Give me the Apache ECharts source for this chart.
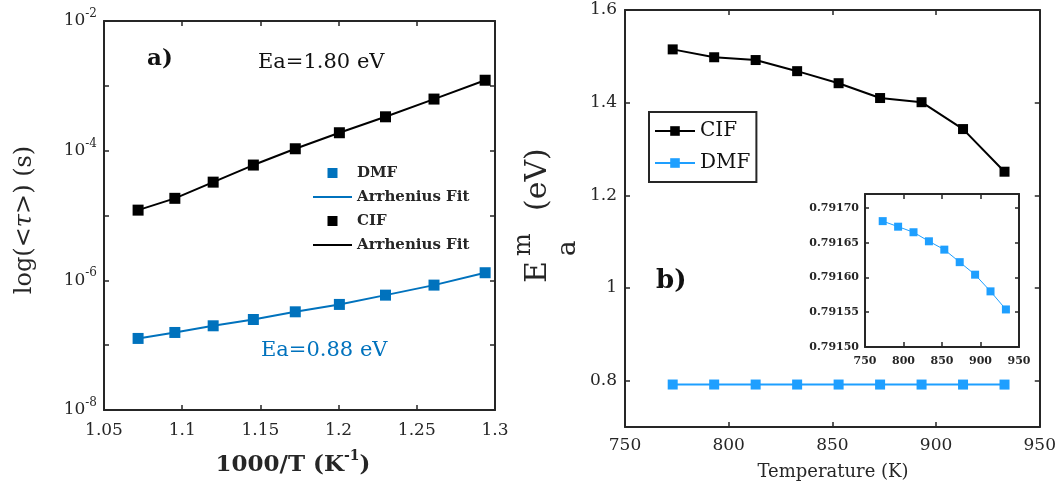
<!DOCTYPE html>
<html>
<head>
<meta charset="utf-8">
<script src="https://cdn.jsdelivr.net/npm/echarts@6/dist/echarts.min.js"></script>
<style>
  html, body { margin: 0; padding: 0; background: #fff; }
  #chart { width: 1059px; height: 484px; }
</style>
</head>
<body>
<div id="chart"></div>
<script>
// panel a: relaxation time vs 1000/T
const invT = [1.0718, 1.0953, 1.1198, 1.1455, 1.1723, 1.2005, 1.2300, 1.2610, 1.2937];
const tauDMF = [1.27e-7, 1.57e-7, 1.99e-7, 2.49e-7, 3.27e-7, 4.25e-7, 5.91e-7, 8.44e-7, 1.31e-6];
const tauCIF = [1.21e-5, 1.84e-5, 3.27e-5, 6.0e-5, 1.07e-4, 1.89e-4, 3.33e-4, 6.25e-4, 1.22e-3];

// panel b: migration energy vs temperature
const temps = [773, 793, 813, 833, 853, 873, 893, 913, 933];
const emCIF = [1.515, 1.498, 1.492, 1.468, 1.442, 1.410, 1.401, 1.343, 1.251];
const emDMF = [0.791681, 0.791673, 0.791665, 0.791652, 0.791640, 0.791622, 0.791604, 0.791580, 0.791554];

const yTicksB = [0.8, 1.0, 1.2, 1.4, 1.6];
const insetTicks = [0.7915, 0.79155, 0.7916, 0.79165, 0.7917];

const FONT = 'DejaVu Serif';
const INK = '#262626';
const BLUE_A = '#0072BD';
const BLUE_B = '#1E9FFF';

// legend icon shapes: a small square marker, and a plain 2px line
const SQUARE = 'path://M0,0H10V10H0Z';
const DASH = 'path://M0,0H40V2H0Z';

const pairs = (xs, ys) => xs.map((x, i) => [x, ys[i]]);

function boxAxis(extra) {
  return Object.assign({
    axisLine: { show: true, onZero: false, lineStyle: { color: INK, width: 2 } },
    axisTick: { show: true, inside: true, length: 5, lineStyle: { color: INK, width: 1.5 } },
    splitLine: { show: false },
    axisLabel: { show: false }
  }, extra);
}

const lbl = (size, margin, more) => Object.assign({
  show: true, color: INK, fontFamily: FONT, fontSize: size, margin: margin
}, more || {});

const chart = echarts.init(document.getElementById('chart'));

chart.setOption({
  animation: false,
  grid: [
    { left: 104, right: 564, top: 21, bottom: 74 },
    { left: 625, right: 17, top: 10, bottom: 57 },
    { left: 865, right: 40, top: 194, bottom: 137, show: true, backgroundColor: '#fff', borderWidth: 0 }
  ],
  xAxis: [
    boxAxis({ type: 'value', gridIndex: 0, min: 1.05, max: 1.3, interval: 0.05,
      axisLabel: lbl(17, 12, { formatter: v => String(parseFloat(v.toFixed(2))) }) }),
    boxAxis({ type: 'value', gridIndex: 0, position: 'top', min: 1.05, max: 1.3, interval: 0.05 }),
    boxAxis({ type: 'value', gridIndex: 1, min: 750, max: 950, interval: 50,
      axisLabel: lbl(17, 10) }),
    boxAxis({ type: 'value', gridIndex: 1, position: 'top', min: 750, max: 950, interval: 50 }),
    boxAxis({ type: 'value', gridIndex: 2, min: 750, max: 950, interval: 50,
      axisLabel: lbl(11, 9, { fontWeight: 'bold' }) }),
    boxAxis({ type: 'value', gridIndex: 2, position: 'top', min: 750, max: 950, interval: 50 })
  ],
  yAxis: [
    boxAxis({ type: 'log', logBase: 10, gridIndex: 0, min: 1e-8, max: 1e-2, interval: 1,
      axisLabel: lbl(17, 7, {
        formatter: v => {
          const e = Math.round(Math.log10(v));
          return e % 2 === 0 ? '{b|10}{s|' + e + '}' : '';
        },
        rich: {
          b: { fontFamily: FONT, fontSize: 17, color: INK, lineHeight: 26 },
          s: { fontFamily: FONT, fontSize: 12, color: INK, lineHeight: 12, verticalAlign: 'top' }
        }
      }) }),
    boxAxis({ type: 'log', logBase: 10, gridIndex: 0, position: 'right', min: 1e-8, max: 1e-2, interval: 1 }),
    boxAxis({ type: 'value', gridIndex: 1, min: 0.7, max: 1.6,
      axisTick: { show: true, inside: true, length: 5, customValues: yTicksB, lineStyle: { color: INK, width: 1.5 } },
      axisLabel: lbl(17, 8, { customValues: yTicksB, formatter: v => String(parseFloat(v.toFixed(1))) }) }),
    boxAxis({ type: 'value', gridIndex: 1, position: 'right', min: 0.7, max: 1.6,
      axisTick: { show: true, inside: true, length: 5, customValues: yTicksB, lineStyle: { color: INK, width: 1.5 } } }),
    boxAxis({ type: 'value', gridIndex: 2, min: 0.7915, max: 0.79172,
      axisTick: { show: true, inside: true, length: 4, customValues: insetTicks, lineStyle: { color: INK, width: 1.5 } },
      axisLabel: lbl(11, 6, { fontWeight: 'bold', customValues: insetTicks, formatter: v => v.toFixed(5) }) }),
    boxAxis({ type: 'value', gridIndex: 2, position: 'right', min: 0.7915, max: 0.79172,
      axisTick: { show: true, inside: true, length: 4, customValues: insetTicks, lineStyle: { color: INK, width: 1.5 } } })
  ],
  legend: [
    {
      orient: 'vertical', left: 313, top: 164, padding: 0,
      itemWidth: 39, itemHeight: 10, itemGap: 6, symbolKeepAspect: true,
      data: [
        { name: 'DMF', icon: SQUARE },
        { name: 'DMF fit', icon: DASH },
        { name: 'CIF', icon: SQUARE },
        { name: 'CIF fit', icon: DASH }
      ],
      formatter: n => n.endsWith('fit') ? 'Arrhenius Fit' : n,
      textStyle: { fontFamily: FONT, fontWeight: 'bold', fontSize: 15, color: INK, lineHeight: 18 }
    },
    {
      orient: 'vertical', left: 649, top: 112, padding: [6, 6, 6, 5],
      borderColor: INK, borderWidth: 2, backgroundColor: '#fff',
      itemWidth: 40, itemHeight: 12, itemGap: 6,
      data: ['CIF-b', 'DMF-b'],
      formatter: n => n.replace('-b', ''),
      textStyle: { fontFamily: FONT, fontSize: 20, color: '#111', lineHeight: 26 }
    }
  ],
  series: [
    { name: 'DMF fit', type: 'line', xAxisIndex: 0, yAxisIndex: 0, symbol: 'none',
      lineStyle: { color: BLUE_A, width: 2 }, itemStyle: { color: BLUE_A }, data: pairs(invT, tauDMF) },
    { name: 'CIF fit', type: 'line', xAxisIndex: 0, yAxisIndex: 0, symbol: 'none',
      lineStyle: { color: '#000', width: 2 }, itemStyle: { color: '#000' }, data: pairs(invT, tauCIF) },
    { name: 'DMF', type: 'scatter', xAxisIndex: 0, yAxisIndex: 0, symbol: 'rect', symbolSize: 11,
      itemStyle: { color: BLUE_A, opacity: 1 }, data: pairs(invT, tauDMF) },
    { name: 'CIF', type: 'scatter', xAxisIndex: 0, yAxisIndex: 0, symbol: 'rect', symbolSize: 11,
      itemStyle: { color: '#000', opacity: 1 }, data: pairs(invT, tauCIF) },

    { name: 'CIF-b', type: 'line', xAxisIndex: 2, yAxisIndex: 2, symbol: 'rect', symbolSize: 10,
      lineStyle: { color: '#000', width: 2 }, itemStyle: { color: '#000' }, data: pairs(temps, emCIF) },
    { name: 'DMF-b', type: 'line', xAxisIndex: 2, yAxisIndex: 2, symbol: 'rect', symbolSize: 10,
      lineStyle: { color: BLUE_B, width: 2 }, itemStyle: { color: BLUE_B }, data: pairs(temps, emDMF) },

    { name: 'DMF inset', type: 'line', xAxisIndex: 4, yAxisIndex: 4, symbol: 'rect', symbolSize: 8,
      lineStyle: { color: BLUE_B, width: 1 }, itemStyle: { color: BLUE_B }, data: pairs(temps, emDMF) }
  ],
  graphic: [
    { type: 'text', left: 147, top: 48, style: { text: 'a)', fontFamily: FONT, fontWeight: 'bold', fontSize: 23, fill: '#111' } },
    { type: 'text', left: 258, top: 52, style: { text: 'Ea=1.80 eV', fontFamily: FONT, fontSize: 21, fill: '#111' } },
    { type: 'text', left: 261, top: 340, style: { text: 'Ea=0.88 eV', fontFamily: FONT, fontSize: 21, fill: BLUE_A } },
    { type: 'text', left: 656, top: 268, style: { text: 'b)', fontFamily: FONT, fontWeight: 'bold', fontSize: 26, fill: '#111' } },
    // left y-axis title
    { type: 'text', x: 25, y: 220, rotation: Math.PI / 2,
      style: { text: '{n|log(<}{t|τ}{n|>) (s)}', align: 'center', verticalAlign: 'middle',
        rich: {
          n: { fontFamily: FONT, fontSize: 24, fill: INK },
          t: { fontFamily: FONT, fontSize: 24, fontStyle: 'italic', fill: INK }
        } } },
    // bottom axis titles
    { type: 'text', x: 293, y: 465,
      style: { text: '{n|1000/T (K}{s|-1}{n|)}', align: 'center', verticalAlign: 'middle',
        rich: {
          n: { fontFamily: FONT, fontSize: 23, fontWeight: 'bold', fill: INK, lineHeight: 32 },
          s: { fontFamily: FONT, fontSize: 14, fontWeight: 'bold', fill: INK, lineHeight: 14, verticalAlign: 'top' }
        } } },
    { type: 'text', x: 833, y: 472,
      style: { text: 'Temperature (K)', align: 'center', verticalAlign: 'middle', fontFamily: FONT, fontSize: 18, fill: INK } },
    // right y-axis title E_a^m (eV)
    { type: 'group', x: 548, y: 283, rotation: Math.PI / 2, children: [
      { type: 'text', x: 0, y: -10, style: { text: 'E', fontFamily: FONT, fontSize: 30, fill: INK, verticalAlign: 'middle' } },
      { type: 'text', x: 27, y: -24, style: { text: 'm', fontFamily: FONT, fontSize: 24, fill: INK, verticalAlign: 'middle' } },
      { type: 'text', x: 27, y: 20, style: { text: 'a', fontFamily: FONT, fontSize: 26, fill: INK, verticalAlign: 'middle' } },
      { type: 'text', x: 72, y: -10, style: { text: '(eV)', fontFamily: FONT, fontSize: 30, fill: INK, verticalAlign: 'middle' } }
    ] }
  ]
});
</script>
</body>
</html>
